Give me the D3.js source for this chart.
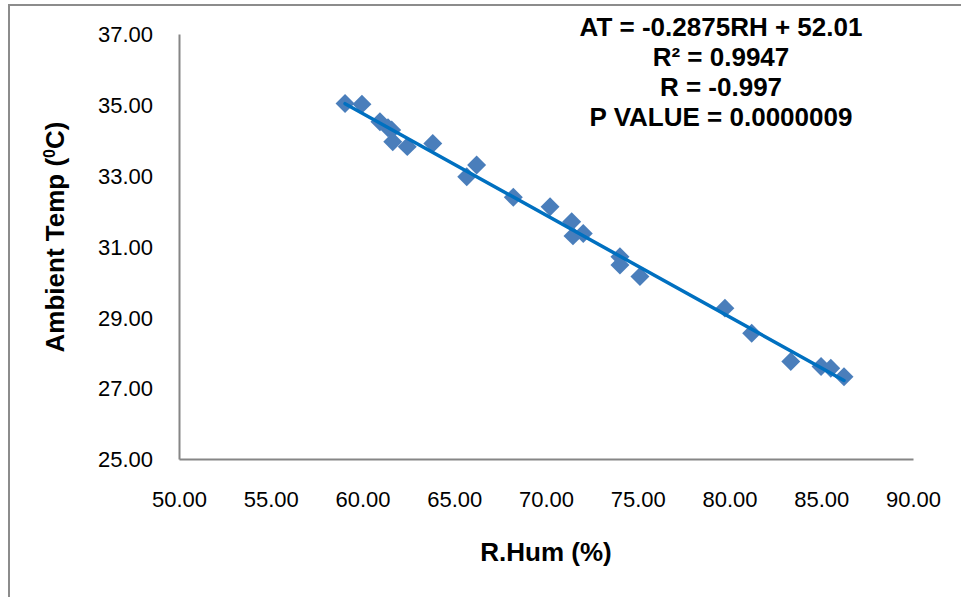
<!DOCTYPE html>
<html>
<head>
<meta charset="utf-8">
<script src="https://cdn.jsdelivr.net/npm/d3@7"></script>
<style>
  html, body { margin: 0; padding: 0; background: #fff; }
  svg { display: block; }
</style>
</head>
<body>
<svg id="chart" width="961" height="597"></svg>
<script>
// ---- data ----
const rh = [59.05, 59.97, 60.95, 61.39, 61.59, 61.65, 62.44, 63.83, 65.68, 66.22, 68.22, 70.22,
            71.40, 71.47, 72.03, 74.03, 74.03, 75.12, 79.75, 81.21, 83.34, 84.99, 85.52, 86.24];
const at = [35.04, 35.02, 34.52, 34.35, 34.29, 33.96, 33.82, 33.91, 32.97, 33.30, 32.39, 32.12,
            31.70, 31.30, 31.37, 30.71, 30.48, 30.15, 29.26, 28.55, 27.75, 27.61, 27.56, 27.32];
const xTicks = [50, 55, 60, 65, 70, 75, 80, 85, 90];
const yTicks = [25, 27, 29, 31, 33, 35, 37];
const slope = -0.2875, intercept = 52.01;
const annotation = ["AT = -0.2875RH + 52.01", "R\u00B2 = 0.9947", "R = -0.997", "P VALUE = 0.0000009"];
const xTitle = "R.Hum (%)";
const yTitleParts = ["Ambient Temp (", "0", "C)"];

// ---- chart ----
const svg = d3.select("#chart");
const x = d3.scaleLinear().domain([50, 90]).range([179, 913]);
const y = d3.scaleLinear().domain([25, 37]).range([459, 34]);

// outer frame
svg.append("path")
  .attr("d", "M9,597 L9,5 L961,5")
  .attr("fill", "none").attr("stroke", "#8c8c8c").attr("stroke-width", 2);

const tickFont = "'Liberation Sans', Arial, sans-serif";

// x axis
const gx = svg.append("g").attr("transform", `translate(0,${y(25)})`)
  .call(d3.axisBottom(x).tickValues(xTicks).tickSize(0).tickPadding(0).tickFormat(d3.format(".2f")));
gx.select(".domain").attr("stroke", "#868686").attr("stroke-width", 2);
gx.selectAll("text").attr("y", 48).attr("dy", 0)
  .attr("font-family", tickFont).attr("font-size", 22).attr("fill", "#000");

// y axis
const gy = svg.append("g").attr("transform", `translate(${x(50)},0)`)
  .call(d3.axisLeft(y).tickValues(yTicks).tickSize(0).tickPadding(0).tickFormat(d3.format(".2f")));
gy.select(".domain").attr("stroke", "#868686").attr("stroke-width", 2);
gy.selectAll("text").attr("x", -26).attr("dy", "0.35em")
  .attr("font-family", tickFont).attr("font-size", 22).attr("fill", "#000");

// markers
const data = rh.map((v, i) => ({ rh: v, at: at[i] }));
const diamond = d3.symbol().type(d3.symbolSquare).size(180);
svg.append("g").selectAll("path").data(data).join("path")
  .attr("d", diamond)
  .attr("transform", d => `translate(${x(d.rh)},${y(d.at)}) rotate(45)`)
  .attr("fill", "#4a7ebb");

// trendline over data range
const xMin = d3.min(rh), xMax = d3.max(rh);
svg.append("line")
  .attr("x1", x(xMin)).attr("y1", y(slope * xMin + intercept))
  .attr("x2", x(xMax)).attr("y2", y(slope * xMax + intercept))
  .attr("stroke", "#0070c0").attr("stroke-width", 3.5).attr("stroke-linecap", "round");

// annotation
const boldFont = "'Liberation Sans', Arial, sans-serif";
svg.append("g").selectAll("text").data(annotation).join("text")
  .attr("x", 721).attr("y", (d, i) => 36 + i * 30)
  .attr("text-anchor", "middle")
  .attr("font-family", boldFont).attr("font-weight", "bold").attr("font-size", 26)
  .attr("fill", "#000")
  .text(d => d);

// axis titles
svg.append("text")
  .attr("x", 546).attr("y", 561)
  .attr("text-anchor", "middle")
  .attr("font-family", boldFont).attr("font-weight", "bold").attr("font-size", 26)
  .text(xTitle);

const yt = svg.append("text")
  .attr("transform", "translate(64,237) rotate(-90)")
  .attr("text-anchor", "middle")
  .attr("font-family", boldFont).attr("font-weight", "bold").attr("font-size", 26);
yt.append("tspan").text(yTitleParts[0]);
yt.append("tspan").attr("font-size", 16).attr("dy", -9).text(yTitleParts[1]);
yt.append("tspan").attr("dy", 9).text(yTitleParts[2]);
</script>
</body>
</html>
